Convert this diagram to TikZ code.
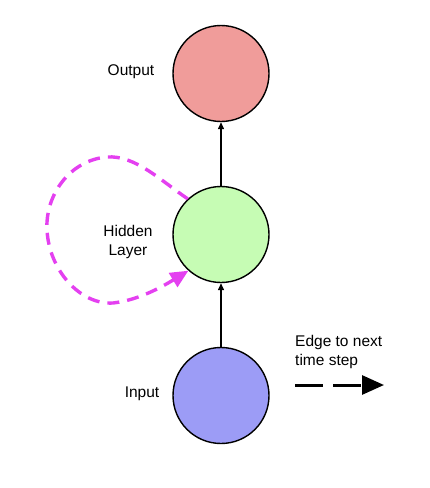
\documentclass[tikz,border=0pt]{standalone}
\usepackage{fontspec}
\setmainfont{Liberation Sans}
\usetikzlibrary{arrows.meta}
\definecolor{outc}{RGB}{240,156,154}
\definecolor{hidc}{RGB}{198,252,180}
\definecolor{inc}{RGB}{156,156,246}
\definecolor{loopc}{RGB}{228,64,240}
\begin{document}
\begin{tikzpicture}[x=1pt,y=-1pt,
  unit/.style={circle,draw=black,line width=1.4pt,minimum size=96pt,inner sep=0pt},
  lbl/.style={font=\fontsize{15.5}{19}\selectfont,align=center,inner sep=0pt},
  conn/.style={line width=1.3pt,-{Triangle[length=7pt,width=6pt]}}]
\useasboundingbox (0,0) rectangle (430,488);
\node[unit,fill=outc] (out) at (221,73.5) {};
\node[unit,fill=hidc] (hid) at (221,234.5) {};
\node[unit,fill=inc] (in) at (221,395.5) {};
\node[lbl] (outl) at (131,72) {Output};
\node[lbl] (hidl) at (128,242) {Hidden\\Layer};
\node[lbl] (inl) at (142,394) {Input};
\node[lbl,align=left,anchor=north west] (edl) at (295,335) {Edge to next\\time step};
\draw[conn] (hid) -- (out);
\draw[conn] (in) -- (hid);
\draw[loopc,line width=3.4pt,dash pattern=on 12pt off 8pt,-{Triangle[length=18pt,width=16pt]}]
  (hid.133) .. controls (160,180) and (135,155) .. (107,157)
  .. controls (70,160) and (45,195) .. (47,230)
  .. controls (49,270) and (80,305) .. (113,303)
  .. controls (140,300) and (165,285) .. (hid.228);
\coordinate (es) at (295,385);
\coordinate (ee) at (384,385);
\draw[line width=3pt,dash pattern=on 28pt off 10pt,-{Triangle[length=22pt,width=19pt]}] (es) -- (ee);
\end{tikzpicture}
\end{document}
